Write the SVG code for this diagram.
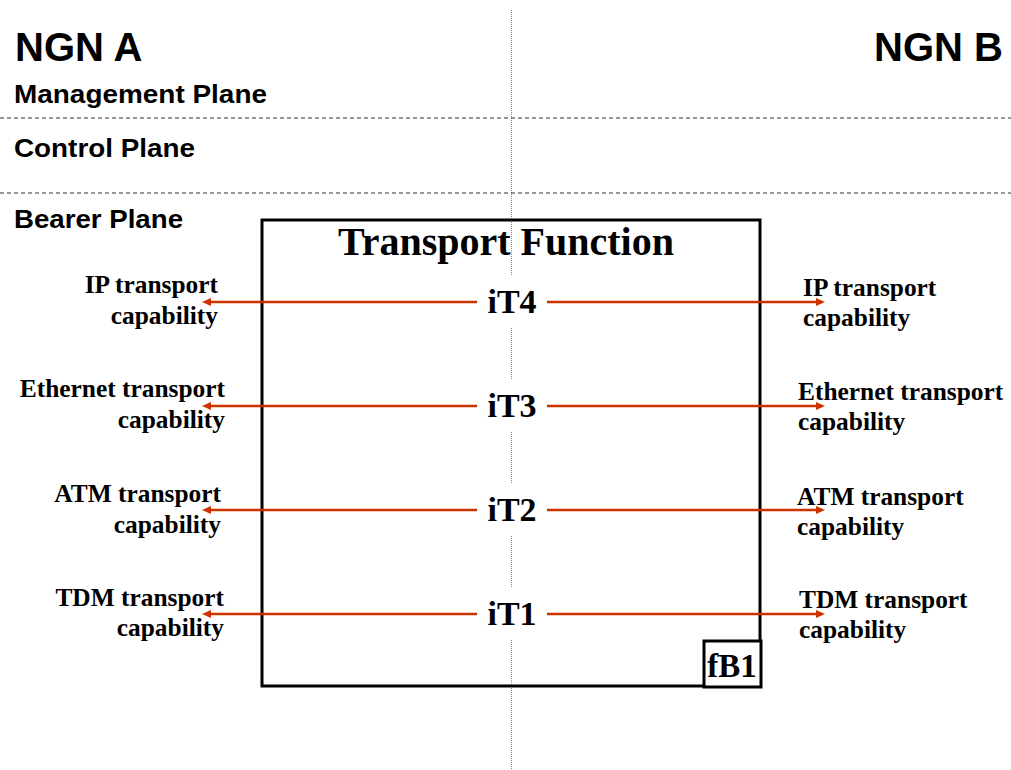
<svg xmlns="http://www.w3.org/2000/svg" width="1011" height="770" viewBox="0 0 1011 770">
<style>
.sans{font-family:"Liberation Sans",Arial,sans-serif;font-weight:bold;fill:#000}
.serif{font-family:"Liberation Serif","Times New Roman",serif;font-weight:bold;fill:#000}
.cap{font-size:25.4px}
.lbl{font-size:34px}
.plane{font-size:26px}
.dash{stroke:#333;stroke-width:1.2;stroke-dasharray:4 3;fill:none}
.dot{stroke:#888;stroke-width:1;stroke-dasharray:1 1;fill:none}
.arrow{stroke:#CC3300;stroke-width:2.6;fill:none;marker-end:url(#ah)}
.mask{fill:#fff;stroke:none}
</style>
<defs>
<marker id="ah" viewBox="0 0 9 8" markerWidth="9" markerHeight="8" markerUnits="userSpaceOnUse" refX="2" refY="4" orient="auto">
<path d="M0,0 L9,4 L0,8 z" fill="#CC3300"/>
</marker>
</defs>
<rect width="1011" height="770" fill="#fff"/>
<g id="background">
<line class="dot" x1="511.5" y1="10" x2="511.5" y2="770"/>
<line class="dash" x1="0" y1="118" x2="1011" y2="118"/>
<line class="dash" x1="0" y1="193" x2="1011" y2="193"/>
<text class="sans" x="15" y="61" font-size="40">NGN A</text>
<text class="sans" x="1003" y="61" font-size="40" text-anchor="end">NGN B</text>
<text class="sans plane" x="14" y="103" textLength="253" lengthAdjust="spacingAndGlyphs">Management Plane</text>
<text class="sans plane" x="14" y="157" textLength="181" lengthAdjust="spacingAndGlyphs">Control Plane</text>
<text class="sans plane" x="14" y="228" textLength="169" lengthAdjust="spacingAndGlyphs">Bearer Plane</text>
</g>
<g id="transport-function">
<rect x="262" y="220" width="498" height="466" fill="none" stroke="#000" stroke-width="3"/>
<text class="serif" x="506" y="255" font-size="40" text-anchor="middle">Transport Function</text>
</g>
<g id="fB1">
<rect x="704" y="641" width="57" height="46" fill="#fff" stroke="#000" stroke-width="3"/>
<text class="serif" x="732" y="677" font-size="33" text-anchor="middle">fB1</text>
</g>
<g id="connectors">
<line class="arrow" x1="477" y1="302" x2="209" y2="302"/>
<line class="arrow" x1="547" y1="302" x2="818" y2="302"/>
<line class="arrow" x1="477" y1="406" x2="209" y2="406"/>
<line class="arrow" x1="547" y1="406" x2="818" y2="406"/>
<line class="arrow" x1="477" y1="510" x2="209" y2="510"/>
<line class="arrow" x1="547" y1="510" x2="818" y2="510"/>
<line class="arrow" x1="477" y1="614" x2="209" y2="614"/>
<line class="arrow" x1="547" y1="614" x2="818" y2="614"/>
</g>
<g id="iT4">
<rect class="mask" x="479" y="275" width="67" height="52"/>
<text class="serif lbl" x="512" y="313" text-anchor="middle">iT4</text>
</g>
<g id="iT3">
<rect class="mask" x="479" y="379" width="67" height="52"/>
<text class="serif lbl" x="512" y="417" text-anchor="middle">iT3</text>
</g>
<g id="iT2">
<rect class="mask" x="479" y="483" width="67" height="52"/>
<text class="serif lbl" x="512" y="521" text-anchor="middle">iT2</text>
</g>
<g id="iT1">
<rect class="mask" x="479" y="587" width="67" height="52"/>
<text class="serif lbl" x="512" y="625" text-anchor="middle">iT1</text>
</g>
<g id="left-IP">
<text class="serif cap" text-anchor="end"><tspan x="218" y="293">IP transport</tspan><tspan x="218" y="324">capability</tspan></text>
</g>
<g id="left-Ethernet">
<text class="serif cap" text-anchor="end"><tspan x="225" y="397">Ethernet transport</tspan><tspan x="225" y="428">capability</tspan></text>
</g>
<g id="left-ATM">
<text class="serif cap" text-anchor="end"><tspan x="221" y="502">ATM transport</tspan><tspan x="221" y="533">capability</tspan></text>
</g>
<g id="left-TDM">
<text class="serif cap" text-anchor="end"><tspan x="224" y="606">TDM transport</tspan><tspan x="224" y="636">capability</tspan></text>
</g>
<g id="right-IP">
<text class="serif cap"><tspan x="803" y="296">IP transport</tspan><tspan x="803" y="326">capability</tspan></text>
</g>
<g id="right-Ethernet">
<text class="serif cap"><tspan x="798" y="400">Ethernet transport</tspan><tspan x="798" y="430">capability</tspan></text>
</g>
<g id="right-ATM">
<text class="serif cap"><tspan x="797" y="505">ATM transport</tspan><tspan x="797" y="535">capability</tspan></text>
</g>
<g id="right-TDM">
<text class="serif cap"><tspan x="799" y="608">TDM transport</tspan><tspan x="799" y="638">capability</tspan></text>
</g>
</svg>
